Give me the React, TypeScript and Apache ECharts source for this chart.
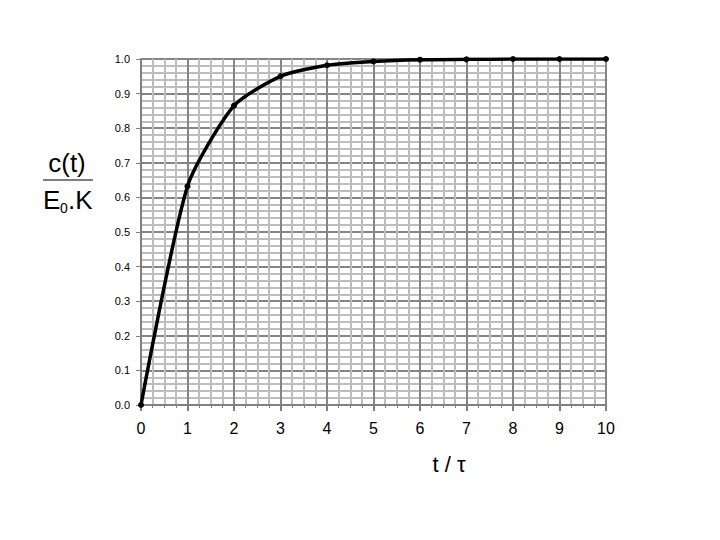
import React, { useEffect, useRef } from "react";
import * as echarts from "echarts";

const tValues = [0, 1, 2, 3, 4, 5, 6, 7, 8, 9, 10];
const responseValues = [0, 0.632, 0.865, 0.95, 0.982, 0.993, 0.998, 0.999, 1.0, 1.0, 1.0];
const xTitle = "t / τ";
const yTitleTop = "c(t)";
const yTitleBottom = ["E", "0", ".K"];

export default function App() {
  const ref = useRef<HTMLDivElement>(null);
  useEffect(() => {
    if (!ref.current) return;
    const chart = echarts.init(ref.current, null, { renderer: "svg" });
    const font = "Liberation Sans, Arial, sans-serif";
    chart.setOption({
      animation: false,
      backgroundColor: "#ffffff",
      grid: { left: 141, right: 114, top: 59, bottom: 135, containLabel: false },
      xAxis: {
        type: "value",
        min: 0,
        max: 10,
        interval: 1,
        axisLine: { show: true, onZero: false, lineStyle: { color: "#808080", width: 2 } },
        axisTick: { show: true, length: 6, lineStyle: { color: "#808080", width: 2 } },
        minorTick: { show: true, splitNumber: 4, length: 3, lineStyle: { color: "#808080", width: 1 } },
        axisLabel: { color: "#000", fontSize: 16, fontFamily: font, margin: 15 },
        splitLine: { show: true, lineStyle: { color: "#858585", width: 2 } },
        minorSplitLine: { show: true, lineStyle: { color: "#bdbdbd", width: 2 } },
      },
      yAxis: {
        type: "value",
        min: 0,
        max: 1,
        interval: 0.1,
        axisLine: { show: true, onZero: false, lineStyle: { color: "#808080", width: 2 } },
        axisTick: { show: true, length: 5, lineStyle: { color: "#808080", width: 1 } },
        minorTick: { show: false, splitNumber: 5 },
        axisLabel: {
          color: "#000",
          fontSize: 11,
          fontFamily: font,
          margin: 11,
          formatter: (v: number) => v.toFixed(1),
        },
        splitLine: { show: true, lineStyle: { color: "#858585", width: 2 } },
        minorSplitLine: { show: true, lineStyle: { color: "#bdbdbd", width: 2 } },
      },
      series: [
        {
          type: "line",
          data: tValues.map((t, i) => [t, responseValues[i]]),
          smooth: 0.22,
          symbol: "circle",
          symbolSize: 6,
          itemStyle: { color: "#000" },
          lineStyle: { color: "#000", width: 3.5 },
          z: 10,
        },
      ],
      graphic: [
        {
          type: "text",
          x: 67,
          y: 163,
          style: {
            text: yTitleTop,
            font: `26px ${font}`,
            fill: "#000",
            align: "center",
            verticalAlign: "middle",
          },
        },
        {
          type: "line",
          shape: { x1: 43, y1: 180, x2: 93, y2: 180 },
          style: { stroke: "#000", lineWidth: 1 },
        },
        {
          type: "text",
          x: 43,
          y: 200,
          style: { text: yTitleBottom[0], font: `26px ${font}`, fill: "#000", align: "left", verticalAlign: "middle" },
        },
        {
          type: "text",
          x: 60,
          y: 208,
          style: { text: yTitleBottom[1], font: `14px ${font}`, fill: "#000", align: "left", verticalAlign: "middle" },
        },
        {
          type: "text",
          x: 68,
          y: 200,
          style: { text: yTitleBottom[2], font: `26px ${font}`, fill: "#000", align: "left", verticalAlign: "middle" },
        },
        {
          type: "text",
          x: 449,
          y: 464,
          style: {
            text: xTitle,
            font: `22px ${font}`,
            fill: "#000",
            align: "center",
            verticalAlign: "middle",
          },
        },
      ],
    });
    return () => chart.dispose();
  }, []);
  return <div ref={ref} style={{ width: 720, height: 540, position: "absolute", left: 0, top: 0 }} />;
}
